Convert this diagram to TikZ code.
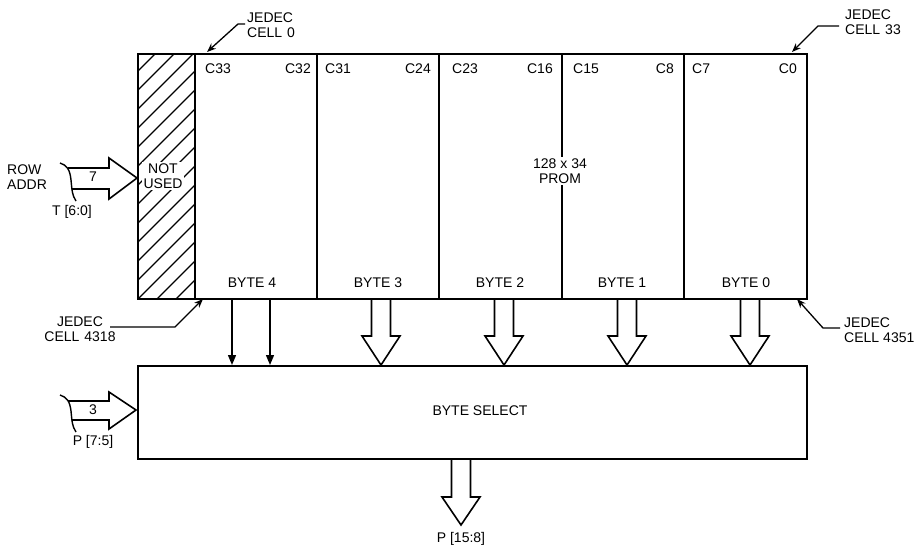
\documentclass[tikz,border=0pt]{standalone}
\usepackage{fontspec}
\setmainfont{Liberation Sans}
\usetikzlibrary{arrows.meta,calc}
\begin{document}
\begin{tikzpicture}[x=1pt,y=-1pt,
  txt/.style={font=\fontsize{14}{15}\selectfont, inner sep=0pt},
  box/.style={draw, line width=1.8pt, inner sep=0pt, anchor=north west},
  divider/.style={line width=1.6pt},
  hatch/.style={line width=1.3pt},
  leader/.style={line width=1.3pt, -{Stealth[length=9pt,width=7pt]}},
  thinarrow/.style={line width=1.4pt, -{Triangle[length=10pt,width=8pt]}},
  widearrow/.style={line width=1.6pt, line join=miter},
]
\useasboundingbox (0,0) rectangle (917,547);

% PROM block
\node[box, minimum width=669pt, minimum height=245pt] (prom) at (137,53) {};
% hatched column
\begin{scope}
  \clip (137,53) rectangle (195,298);
  \foreach \k in {0,...,17} \draw[hatch] (137,{53+19*\k}) -- ++(70,-70);
\end{scope}
\node[txt, fill=white, inner sep=1.5pt, align=center] (nu) at (163,176) {NOT\\USED};

% dividers
\foreach \x/\n in {195/d0,317/d1,439/d2,562/d3,684/d4}
  \draw[divider] (\x,53) coordinate (\n t) -- (\x,298) coordinate (\n b);
\node[txt, fill=white, inner sep=2pt, align=center] (promtxt) at (560,171) {128 x 34\\PROM};

% column labels
\foreach \x/\t in {205/C33,325/C31,452/C23,573/C15,692/C7}
  \node[txt, anchor=west] (l\t) at (\x,69) {\t};
\foreach \x/\t in {311/C32,431/C24,553/C16,674/C8,797/C0}
  \node[txt, anchor=east] (l\t) at (\x,69) {\t};

% byte labels
\foreach \x/\t in {252/4,378/3,500/2,622/1,746/0}
  \node[txt] (b\t) at (\x,283) {BYTE \t};

% BYTE SELECT block
\node[box, minimum width=669pt, minimum height=93pt] (sel) at (137,365) {};
\node[txt] (seltxt) at (480,411) {BYTE SELECT};

% byte 4 thin arrows
\foreach \x in {232,270}
  \draw[thinarrow] (\x,298) coordinate (ta\x) -- (ta\x |- sel.north);

% wide arrows from bytes 3..0
\foreach \c in {381,504,627,750}
  \draw[widearrow] (\c-9.5,298) -- (\c-9.5,336) -- (\c-19,336) -- (\c,365) coordinate (wa\c)
     -- (\c+19,336) -- (\c+9.5,336) -- (\c+9.5,298);

% output arrow
\draw[widearrow] (451.5,458) -- (451.5,497) -- (442,497) -- (461,525) coordinate (outtip)
     -- (480,497) -- (470.5,497) -- (470.5,458);
\node[txt] (outlbl) at (461,539) {P [15:8]};

% ROW ADDR input arrow
\draw[widearrow] (68,168) -- (109,168) -- (109,158) -- (137,178) coordinate (rowtip)
     -- (109,199) -- (109,189) -- (72,189);
\draw[line width=1.4pt] (60,163) .. controls (67,165) and (70,170) .. (71,180)
     .. controls (72,190) and (72,195) .. (76,201);
\node[txt] (seven) at (93,177) {7};
\node[txt, align=left, anchor=west] (rowaddr) at (7,177.5) {ROW\\ADDR};
\node[txt] (tlbl) at (72,212) {T [6:0]};

% byte select input arrow
\draw[widearrow] (68,401) -- (109,401) -- (109,392) -- (136,410) coordinate (seltip)
     -- (109,429) -- (109,420) -- (72,420);
\draw[line width=1.4pt] (60,395) .. controls (67,397) and (70,402) .. (71,411)
     .. controls (72,421) and (72,426) .. (76,432);
\node[txt] (three) at (93,410) {3};
\node[txt] (plbl) at (93,442) {P [7:5]};

% JEDEC leaders
\node[txt, align=left, anchor=west] (j0) at (247,25.5) {JEDEC\\CELL\hspace{5pt}0};
\coordinate (j0a) at (245,24);
\coordinate (j0b) at (238,24);
\draw[leader] (j0a) -- (j0b) -- (207,52);

\node[txt, align=left, anchor=west] (j33) at (845,22.5) {JEDEC\\CELL\hspace{5pt}33};
\coordinate (j33a) at (839,26);
\coordinate (j33b) at (818,26);
\draw[leader] (j33a) -- (j33b) -- (792,52);

\node[txt, align=center] (j4318) at (80,329.5) {JEDEC\\CELL\hspace{5pt}4318};
\coordinate (j4318a) at (110,327);
\coordinate (j4318b) at (175,327);
\draw[leader] (j4318a) -- (j4318b) -- (203,299);

\node[txt, align=left, anchor=west] (j4351) at (844,330) {JEDEC\\CELL\hspace{4pt}4351};
\coordinate (j4351a) at (840,328);
\coordinate (j4351b) at (823,328);
\draw[leader] (j4351a) -- (j4351b) -- (797,299);
\end{tikzpicture}
\end{document}
